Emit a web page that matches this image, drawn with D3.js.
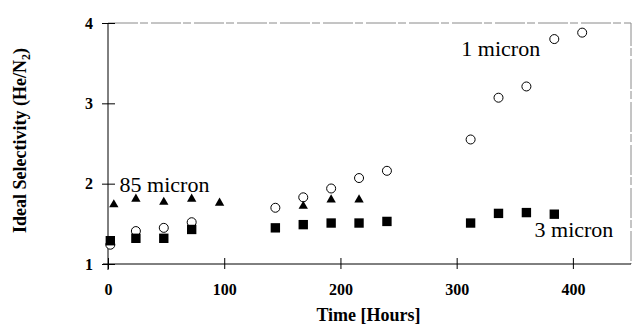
<!DOCTYPE html>
<html>
<head>
<meta charset="utf-8">
<script src="https://cdnjs.cloudflare.com/ajax/libs/d3/7.8.5/d3.min.js"></script>
<style>
  body { margin: 0; background: #fff; }
  #chart { width: 635px; height: 326px; }
  text { font-family: "Liberation Serif", "Times New Roman", serif; }
</style>
</head>
<body>
<div id="chart"></div>
<script>
// data
var hours1um = [2, 24, 48, 72, 144, 168, 192, 216, 240, 312, 336, 360, 384, 408];
var sel1um   = [1.24, 1.41, 1.45, 1.52, 1.70, 1.83, 1.94, 2.07, 2.16, 2.55, 3.07, 3.21, 3.80, 3.88];

var hours85um = [5, 24, 48, 72, 96, 168, 192, 216];
var sel85um   = [1.74, 1.81, 1.77, 1.81, 1.76, 1.72, 1.80, 1.80];

var hours3um = [2, 24, 48, 72, 144, 168, 192, 216, 240, 312, 336, 360, 384];
var sel3um   = [1.29, 1.32, 1.32, 1.43, 1.45, 1.49, 1.51, 1.51, 1.53, 1.51, 1.63, 1.64, 1.62];

var xTicks = [0, 100, 200, 300, 400];
var yTicks = [1, 2, 3, 4];

var seriesLabels = ["1 micron", "85 micron", "3 micron"];
var labelHours   = [304, 10, 367];
var labelSel     = [3.59, 1.90, 1.34];

var margin = { top: 23, right: 4, bottom: 62, left: 108 };
var width = 635 - margin.left - margin.right,
    height = 326 - margin.top - margin.bottom;

var svg = d3.select("#chart").append("svg")
    .attr("width", 635)
    .attr("height", 326)
    .append("g")
    .attr("transform", "translate(" + margin.left + "," + margin.top + ")");

var x = d3.scaleLinear().domain([0, 450]).range([0, width]);
var y = d3.scaleLinear().domain([1, 4]).range([height, 0]);

// faint frame on top and right
svg.append("path")
    .attr("d", "M0,0H" + width + "V" + height)
    .attr("fill", "none")
    .attr("stroke", "#8a8a8a")
    .attr("stroke-width", 1)
    .attr("stroke-dasharray", "30,2,8,3");

// axes
var xAxis = svg.append("g")
    .attr("transform", "translate(0," + height + ")")
    .call(d3.axisBottom(x).tickValues(xTicks).tickSize(6).tickFormat(d3.format("d")));
xAxis.select(".domain").attr("d", "M-5,0H" + width);
xAxis.selectAll(".tick line").attr("y1", -6).attr("y2", 5);
xAxis.selectAll(".tick text")
    .attr("y", 31).attr("dy", 0)
    .style("font-size", "16px").style("font-weight", "bold")
    .style("font-family", "'Liberation Serif', serif").attr("fill", "#000");

var yAxis = svg.append("g")
    .call(d3.axisLeft(y).tickValues(yTicks).tickSize(6).tickFormat(d3.format("d")));
yAxis.select(".domain").attr("d", "M0,0V" + (height + 6));
yAxis.selectAll(".tick line").attr("x1", -6).attr("x2", 7);
yAxis.selectAll(".tick text")
    .attr("x", -15)
    .style("font-size", "16px").style("font-weight", "bold")
    .style("font-family", "'Liberation Serif', serif").attr("fill", "#000");

// axis titles
svg.append("text")
    .attr("x", x(225) - 1)
    .attr("y", height + 57)
    .attr("text-anchor", "middle")
    .style("font-size", "18px")
    .style("font-weight", "bold")
    .text("Time [Hours]");

var yt = svg.append("text")
    .attr("transform", "translate(" + (-82) + "," + (y(2.5) - 3) + ") rotate(-90)")
    .attr("text-anchor", "middle")
    .style("font-size", "18px")
    .style("font-weight", "bold");
yt.append("tspan").text("Ideal Selectivity (He/N");
yt.append("tspan").attr("dy", 4).style("font-size", "12px").text("2");
yt.append("tspan").attr("dy", -4).text(")");

// 1 micron: open circles
svg.selectAll(".c1")
    .data(hours1um.map(function(h, i) { return [h, sel1um[i]]; }))
    .enter().append("circle")
    .attr("class", "c1")
    .attr("cx", function(d) { return x(d[0]); })
    .attr("cy", function(d) { return y(d[1]); })
    .attr("r", 4.5)
    .attr("fill", "#fff")
    .attr("stroke", "#000")
    .attr("stroke-width", 1);

// 85 micron: filled triangles
svg.selectAll(".t85")
    .data(hours85um.map(function(h, i) { return [h, sel85um[i]]; }))
    .enter().append("path")
    .attr("class", "t85")
    .attr("d", d3.symbol().type(d3.symbolTriangle).size(38))
    .attr("transform", function(d) { return "translate(" + x(d[0]) + "," + y(d[1]) + ")"; })
    .attr("fill", "#000");

// 3 micron: filled squares
svg.selectAll(".s3")
    .data(hours3um.map(function(h, i) { return [h, sel3um[i]]; }))
    .enter().append("path")
    .attr("class", "s3")
    .attr("d", d3.symbol().type(d3.symbolSquare).size(88))
    .attr("transform", function(d) { return "translate(" + x(d[0]) + "," + y(d[1]) + ")"; })
    .attr("fill", "#000");

// series annotations
svg.selectAll(".lbl")
    .data(seriesLabels)
    .enter().append("text")
    .attr("class", "lbl")
    .attr("x", function(d, i) { return x(labelHours[i]); })
    .attr("y", function(d, i) { return y(labelSel[i]); })
    .style("font-size", "22px")
    .text(function(d) { return d; });
</script>
</body>
</html>
